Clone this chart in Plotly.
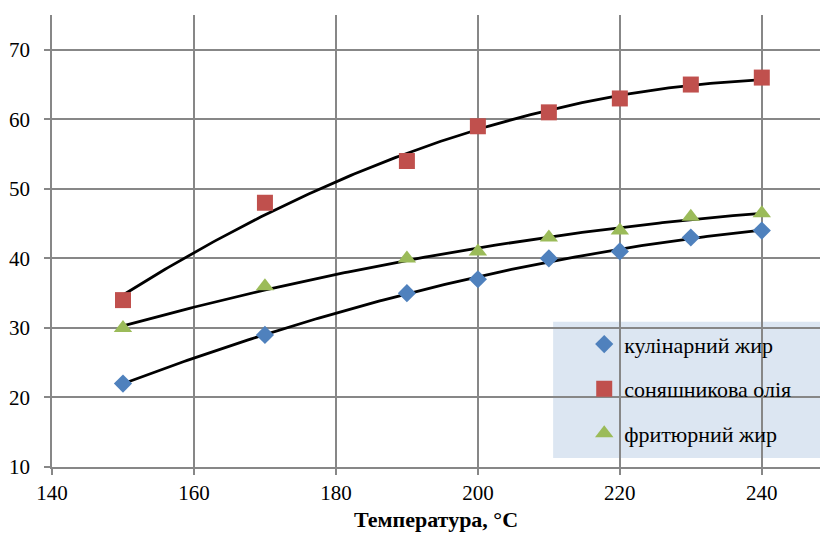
import numpy as np
import plotly.graph_objects as go

temps = [150, 170, 190, 200, 210, 220, 230, 240]
culinary_fat = [22, 29, 35, 37, 40, 41, 43, 44]
sunflower_oil = [34, 48, 54, 59, 61, 63, 65, 66]
frying_fat = [30, 36, 40, 41, 43, 44, 46, 46.5]

names = ["кулінарний жир", "соняшникова олія", "фритюрний жир"]
colors = ["#4F81BD", "#C0504D", "#9BBB59"]
symbols = ["diamond", "square", "triangle-up"]
sizes = [14, 16, 16]
series = [culinary_fat, sunflower_oil, frying_fat]

x_ticks = [140, 160, 180, 200, 220, 240]
y_ticks = [10, 20, 30, 40, 50, 60, 70]

fig = go.Figure()

# trend lines (2nd order polynomial fits of each series)
xs = np.linspace(min(temps), max(temps), 200)
for vals in series:
    c = np.polyfit(temps, vals, 2)
    fig.add_trace(go.Scatter(x=xs, y=np.polyval(c, xs), mode="lines",
                             line=dict(color="black", width=2.8),
                             showlegend=False, hoverinfo="skip"))

for name, vals, col, sym, sz in zip(names, series, colors, symbols, sizes):
    fig.add_trace(go.Scatter(x=temps, y=vals, mode="markers", name=name,
                             legendgroup=name,
                             marker=dict(symbol=sym, color=col, size=sz,
                                         line=dict(width=0))))

grid = "#878787"
font_family = "Liberation Serif"

fig.update_layout(
    width=820, height=556,
    margin=dict(l=52, r=0, t=15, b=89),
    paper_bgcolor="white", plot_bgcolor="white",
    font=dict(family=font_family, size=21, color="black"),
    showlegend=True,
    legend=dict(x=0.693, y=0.318, xanchor="left", yanchor="top",
                bgcolor="rgba(0,0,0,0)", tracegroupgap=13,
                font=dict(family=font_family, size=22, color="black"),
                itemwidth=30),
    shapes=[dict(type="rect", xref="x", yref="y", layer="below",
                 x0=210.6, x1=260, y0=11.3, y1=30.9,
                 fillcolor="#DCE6F2", line=dict(width=0))],
)

fig.update_xaxes(range=[140, 248.2], tickvals=x_ticks,
                 showgrid=True, gridcolor=grid, gridwidth=1.5,
                 showline=True, linecolor=grid, linewidth=1.5,
                 ticks="outside", ticklen=6, tickcolor=grid, tickwidth=1.5,
                 zeroline=False, ticklabelstandoff=0,
                 tickfont=dict(family=font_family, size=21),
                 title=dict(text="<b>Температура, °C</b>", standoff=8,
                            font=dict(family=font_family, size=22)))
fig.update_yaxes(range=[10, 75], tickvals=y_ticks,
                 showgrid=True, gridcolor=grid, gridwidth=1.5,
                 showline=True, linecolor=grid, linewidth=1.5,
                 ticks="outside", ticklen=6, tickcolor=grid, tickwidth=1.5,
                 zeroline=False, ticklabelstandoff=10,
                 tickfont=dict(family=font_family, size=21))

fig.write_html("out.html", config={"displayModeBar": False},
               post_script="document.body.style.margin='0';document.body.style.overflow='hidden';")
